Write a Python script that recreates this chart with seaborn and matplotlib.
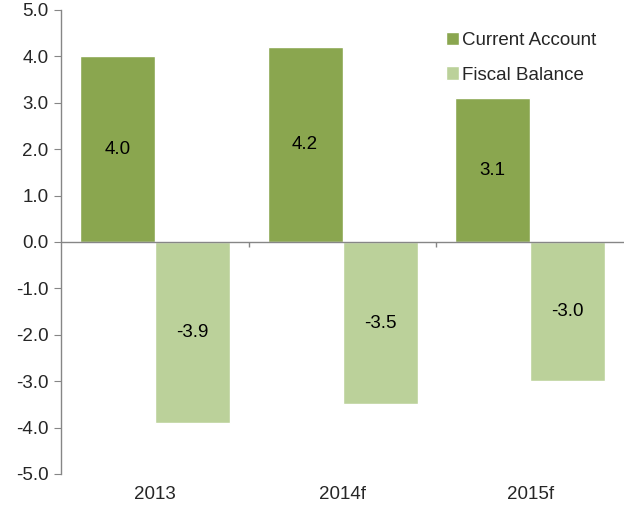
import seaborn as sns
import matplotlib.pyplot as plt
import pandas as pd

# data
years = ['2013', '2014f', '2015f']
current_account = [4.0, 4.2, 3.1]
fiscal_balance = [-3.9, -3.5, -3.0]
series = ['Current Account', 'Fiscal Balance']
colors = ['#8AA64F', '#BBD19A']

df = pd.DataFrame({
    'year': years * 2,
    'value': current_account + fiscal_balance,
    'series': [series[0]] * 3 + [series[1]] * 3,
})

sns.set_style('white')
plt.rcParams['font.family'] = ['Liberation Sans', 'DejaVu Sans']

fig = plt.figure(figsize=(6.24, 5.05), dpi=100)
ax = fig.add_axes([0.098, 0.0614, 0.902, 0.9188])

sns.barplot(data=df, x='year', y='value', hue='series', order=years,
            hue_order=series, palette=colors, width=0.8, saturation=1,
            errorbar=None, ax=ax)

# value labels
for cont in ax.containers:
    ax.bar_label(cont, labels=[f'{v.get_height():.1f}' for v in cont],
                 label_type='center', fontsize=13.5, color='black')

ax.set_xlim(-0.5, 2.5)
ax.set_ylim(-5, 5)
ax.set_yticks([5, 4, 3, 2, 1, 0, -1, -2, -3, -4, -5])
ax.set_yticklabels([f'{t:.1f}' for t in [5, 4, 3, 2, 1, 0, -1, -2, -3, -4, -5]])
ax.set_xlabel('')
ax.set_ylabel('')

grey = '#868686'
for s in ['top', 'right', 'bottom']:
    ax.spines[s].set_visible(False)
ax.spines['left'].set_color(grey)
ax.spines['left'].set_linewidth(1)
ax.axhline(0, color=grey, lw=1, zorder=3)
ax.vlines([0.5, 1.5], -0.11, 0, color=grey, lw=1)

ax.tick_params(axis='y', left=True, length=5, color=grey, labelsize=13.5, pad=4)
ax.tick_params(axis='x', bottom=False, labelsize=13.5, pad=5)

ax.legend(loc='upper left', bbox_to_anchor=(0.653, 0.99), frameon=False,
          fontsize=13.5, handlelength=0.7, handleheight=0.7, handletextpad=0.2,
          labelspacing=0.95)

fig.savefig('out.png', dpi=100)
